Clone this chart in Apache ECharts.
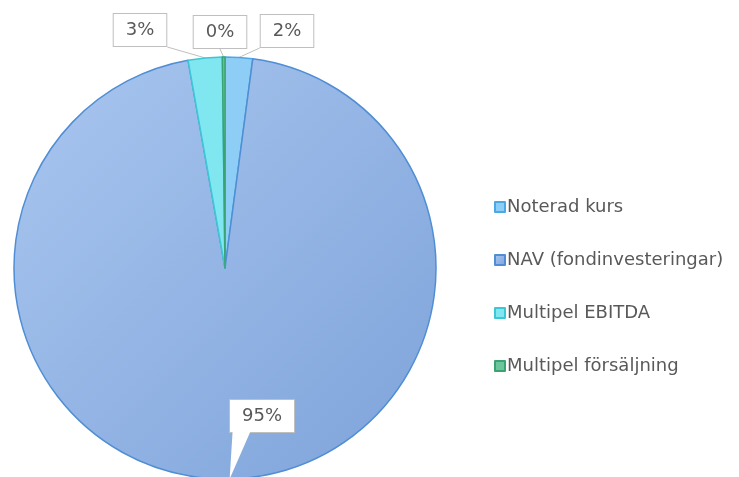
<!DOCTYPE html>
<html>
<head>
<meta charset="utf-8">
<script src="https://cdn.jsdelivr.net/npm/echarts@6/dist/echarts.min.js"></script>
<style>html,body{margin:0;padding:0;background:#fff}#c{width:739px;height:477px}</style>
</head>
<body>
<div id="c"></div>
<script>
const categories = ['Noterad kurs', 'NAV (fondinvesteringar)', 'Multipel EBITDA', 'Multipel försäljning'];
const values = [2.1, 95.1, 2.6, 0.2];
const percentLabels = ['2%', '95%', '3%', '0%'];

const fills = [
  '#8ecdf6',
  {type: 'linear', x: 0, y: 0, x2: 1, y2: 1, colorStops: [{offset: 0, color: '#a9c6ef'}, {offset: 1, color: '#7ea3da'}]},
  '#80e6f0',
  '#6cc59c'
];
const borders = ['#4aa8e6', '#4f8ed4', '#3cc6d6', '#3ba272'];
const labelPos = [[287, 31], [262, 416], [140, 30], [220, 32]];
const lineEnd = [[-1, 1], [-0.45, 1], [1, 1], [0, 1]];

const chart = echarts.init(document.getElementById('c'));
chart.setOption({
  animation: false,
  legend: {
    orient: 'vertical',
    left: 489,
    top: 193,
    itemWidth: 10,
    itemHeight: 10,
    itemGap: 35,
    icon: 'rect',
    textStyle: {fontFamily: 'DejaVu Sans', fontSize: 18, color: '#595959', padding: [0, 0, 0, -3]},
    data: categories
  },
  series: [{
    type: 'pie',
    center: [225, 268],
    radius: 211,
    startAngle: 90,
    clockwise: true,
    avoidLabelOverlap: false,
    label: {
      show: true,
      position: 'outside',
      formatter: p => percentLabels[p.dataIndex],
      fontFamily: 'DejaVu Sans',
      fontSize: 18,
      color: '#595959',
      backgroundColor: '#fff',
      borderColor: '#bfbfbf',
      borderWidth: 1,
      padding: [7, 12]
    },
    labelLine: {show: true, length: 5, length2: 5, lineStyle: {color: '#bfbfbf', width: 1}},
    labelLayout: function (p) {
      const i = p.dataIndex;
      const pos = labelPos[i];
      const w = p.labelRect.width, h = p.labelRect.height;
      const res = {x: pos[0], y: pos[1], align: 'center', verticalAlign: 'middle', hideOverlap: false};
      if (p.labelLinePoints && p.labelLinePoints.length) {
        const a = p.labelLinePoints[0];
        const end = [pos[0] + lineEnd[i][0] * w / 2, pos[1] + lineEnd[i][1] * h / 2];
        res.labelLinePoints = [a, end, end];
      }
      return res;
    },
    data: categories.map((name, i) => ({
      name: name,
      value: values[i],
      itemStyle: {color: fills[i], borderColor: borders[i], borderWidth: 1.5}
    }))
  }]
});

// Callout pointer for the large slice: tip at the slice's mid-angle on the rim (from the library's layout)
const lay = chart.getModel().getSeriesByIndex(0).getData().getItemLayout(1);
if (lay) {
  const mid = (lay.startAngle + lay.endAngle) / 2;
  const tip = [lay.cx + lay.r * Math.cos(mid), lay.cy + lay.r * Math.sin(mid)];
  const baseY = labelPos[1][1] + 16;
  chart.setOption({
    graphic: [{
      type: 'polygon',
      z: 100,
      shape: {points: [[tip[0] + 3, baseY - 1], [tip[0] + 21, baseY - 1], tip]},
      style: {fill: '#ffffff', stroke: null}
    }]
  });
}
</script>
</body>
</html>
